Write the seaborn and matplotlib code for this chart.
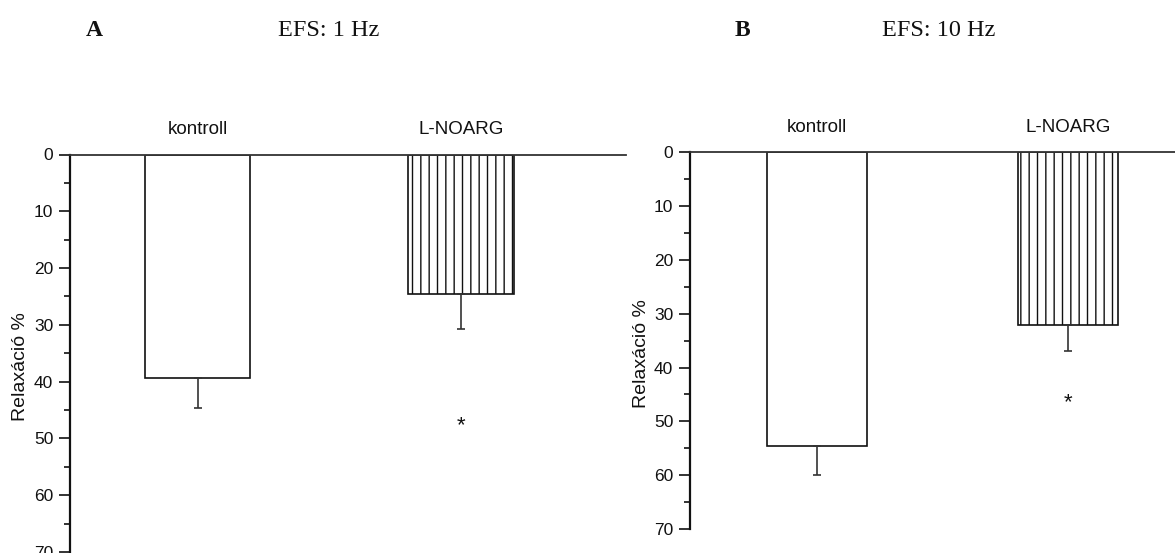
import matplotlib
matplotlib.use("Agg")
import matplotlib.pyplot as plt
import seaborn as sns
import pandas as pd

# ---- data ----
categories = ["kontroll", "L-NOARG"]
a_means = [39.3, 24.5]
a_sem = [5.3, 6.2]
a_star = [None, 47.8]
b_means = [54.5, 32.1]
b_sem = [5.5, 4.9]
b_star = [None, 46.6]
y_ticks = [0, 10, 20, 30, 40, 50, 60, 70]
panel_letters = ["A", "B"]
panel_titles = ["EFS: 1 Hz", "EFS: 10 Hz"]
y_label = "Relaxáció %"

sns.set_theme(style="ticks")
plt.rcParams["font.family"] = ["Liberation Sans", "DejaVu Sans"]
plt.rcParams["hatch.linewidth"] = 1.0
plt.rcParams["hatch.color"] = "#666666"

W, H = 1175, 553
fig = plt.figure(figsize=(W / 100, H / 100), dpi=100)

def px_axes(left, top, right, bottom):
    return fig.add_axes([left / W, 1 - bottom / H, (right - left) / W, (bottom - top) / H])

panels = [
    dict(ax=px_axes(70, 154.5, 626, 552), means=a_means, sem=a_sem, star=a_star,
         xlim=(-0.484, 1.626), width=0.40, label_x=-0.074),
    dict(ax=px_axes(690, 152.3, 1175, 529), means=b_means, sem=b_sem, star=b_star,
         xlim=(-0.504, 1.424), width=0.397, label_x=-0.082),
]

for p in panels:
    ax = p["ax"]
    df = pd.DataFrame({"group": categories, "value": p["means"]})
    sns.barplot(data=df, x="group", y="value", ax=ax, color="white",
                edgecolor="#111111", linewidth=1.2, width=p["width"],
                errorbar=None, saturation=1)
    for i, patch in enumerate(ax.patches):
        patch.set_facecolor("white")
        if i == 1:
            patch.set_hatch("||")
    ax.errorbar(x=[0, 1], y=p["means"], yerr=[[0, 0], p["sem"]], fmt="none",
                ecolor="#333333", elinewidth=1.2, capsize=3, capthick=1.2)
    for i, s in enumerate(p["star"]):
        if s is not None:
            ax.text(i, s, "*", ha="center", va="center", fontsize=16,
                    color="#111111")
    ax.set_xlim(*p["xlim"])
    ax.set_ylim(70, 0)
    ax.set_yticks(y_ticks)
    ax.set_yticks(range(5, 70, 10), minor=True)
    ax.xaxis.tick_top()
    ax.set_xlabel("")
    ax.tick_params(axis="x", length=0, pad=12, labelsize=13.5, colors="#111111")
    ax.tick_params(axis="y", which="major", length=8, width=1.2, pad=4,
                   labelsize=12.5, colors="#111111", direction="out")
    ax.tick_params(axis="y", which="minor", length=4, width=1.2, direction="out",
                   colors="#111111")
    ax.set_ylabel(y_label, fontsize=14, color="#111111")
    ax.yaxis.set_label_coords(p["label_x"], 0.467)
    for side in ["right", "bottom"]:
        ax.spines[side].set_visible(False)
    ax.spines["left"].set_linewidth(1.6)
    ax.spines["left"].set_color("#111111")
    ax.spines["top"].set_linewidth(1.3)
    ax.spines["top"].set_color("#333333")
    ax.grid(False)

serif = ["Liberation Serif", "DejaVu Serif"]
fig.text(94 / W, 1 - 30 / H, panel_letters[0], ha="center", va="center",
         fontsize=17, fontweight="bold", family=serif, color="#111111")
fig.text(329 / W, 1 - 30 / H, panel_titles[0], ha="center", va="center",
         fontsize=17.5, family=serif, color="#111111")
fig.text(742 / W, 1 - 30 / H, panel_letters[1], ha="center", va="center",
         fontsize=17, fontweight="bold", family=serif, color="#111111")
fig.text(939 / W, 1 - 30 / H, panel_titles[1], ha="center", va="center",
         fontsize=17.5, family=serif, color="#111111")

fig.savefig("out.png", dpi=100, facecolor="white")
